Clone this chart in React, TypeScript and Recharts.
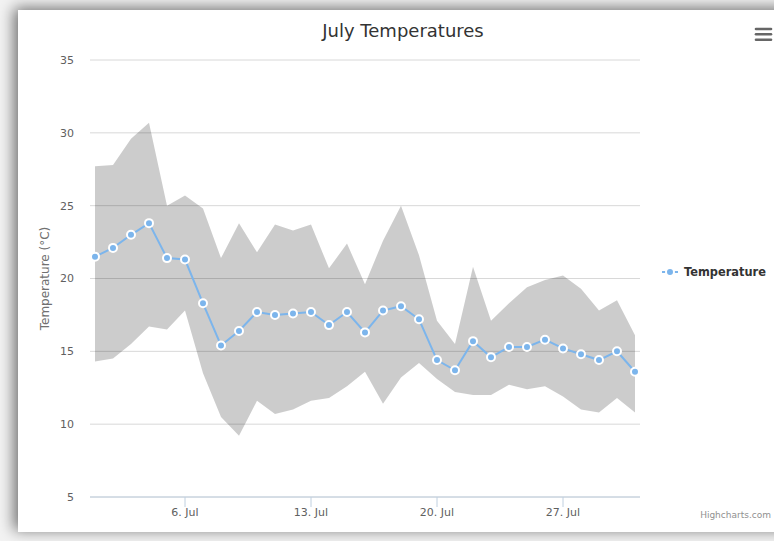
import React from 'react';
import {
  ComposedChart,
  Area,
  Line,
  XAxis,
  YAxis,
  CartesianGrid,
  Legend,
} from 'recharts';

const days = [
  1, 2, 3, 4, 5, 6, 7, 8, 9, 10, 11, 12, 13, 14, 15, 16,
  17, 18, 19, 20, 21, 22, 23, 24, 25, 26, 27, 28, 29, 30, 31,
];

const lows = [
  14.3, 14.5, 15.5, 16.7, 16.5, 17.8, 13.5, 10.5, 9.2, 11.6, 10.7, 11.0, 11.6, 11.8, 12.6, 13.6,
  11.4, 13.2, 14.2, 13.1, 12.2, 12.0, 12.0, 12.7, 12.4, 12.6, 11.9, 11.0, 10.8, 11.8, 10.8,
];

const highs = [
  27.7, 27.8, 29.6, 30.7, 25.0, 25.7, 24.8, 21.4, 23.8, 21.8, 23.7, 23.3, 23.7, 20.7, 22.4, 19.6,
  22.6, 25.0, 21.6, 17.1, 15.5, 20.8, 17.1, 18.3, 19.4, 19.9, 20.2, 19.3, 17.8, 18.5, 16.1,
];

const averages = [
  21.5, 22.1, 23.0, 23.8, 21.4, 21.3, 18.3, 15.4, 16.4, 17.7, 17.5, 17.6, 17.7, 16.8, 17.7, 16.3,
  17.8, 18.1, 17.2, 14.4, 13.7, 15.7, 14.6, 15.3, 15.3, 15.8, 15.2, 14.8, 14.4, 15.0, 13.6,
];

const dayTicks = [6, 13, 20, 27];
const tempTicks = [5, 10, 15, 20, 25, 30, 35];

const data = days.map((day, i) => ({
  day,
  range: [lows[i], highs[i]],
  avg: averages[i],
}));

const FONT = "'DejaVu Sans', sans-serif";
const LINE_COLOR = '#7cb5ec';

function TempLegend({ payload }: any) {
  const items = (payload || []).filter((p: any) => p.dataKey === 'avg');
  return (
    <div>
      {items.map((item: any) => (
        <div
          key={item.value}
          style={{ display: 'flex', alignItems: 'center', height: 16, fontFamily: FONT }}
        >
          <svg width={16} height={12}>
            <line x1={0} y1={6} x2={16} y2={6} stroke={LINE_COLOR} strokeWidth={2} />
            <circle cx={8} cy={6} r={4} fill={LINE_COLOR} stroke="#fff" strokeWidth={2} />
          </svg>
          <span
            style={{
              marginLeft: 6,
              fontSize: 11.4,
              fontWeight: 'bold',
              color: '#333333',
              whiteSpace: 'nowrap',
            }}
          >
            {item.value}
          </span>
        </div>
      ))}
    </div>
  );
}

export default function App() {
  return (
    <div
      style={{
        position: 'absolute',
        left: 0,
        top: 0,
        width: 774,
        height: 541,
        background: '#f3f3f3',
        overflow: 'hidden',
        fontFamily: FONT,
      }}
    >
      <div
        style={{
          position: 'absolute',
          left: 18,
          top: 10,
          width: 790,
          height: 522,
          background: '#ffffff',
          boxShadow: '-4px -2px 14px rgba(0,0,0,0.55)',
        }}
      />
      <div style={{ position: 'absolute', left: 0, top: 0 }}>
        <ComposedChart
          width={774}
          height={541}
          data={data}
          margin={{ top: 60, right: 134, bottom: 14, left: 0 }}
        >
          <CartesianGrid vertical={false} stroke="#D8D8D8" />
          <XAxis
            type="number"
            dataKey="day"
            domain={[1 - 5 / 18, 31 + 5 / 18]}
            ticks={dayTicks}
            interval={0}
            tickFormatter={(d: number) => `${d}. Jul`}
            axisLine={{ stroke: '#C0D0E0' }}
            tickLine={{ stroke: '#C0D0E0' }}
            tickSize={10}
            tickMargin={1}
            height={30}
            tick={{ fill: '#606060', fontSize: 11, fontFamily: FONT }}
          />
          <YAxis
            type="number"
            domain={[5, 35]}
            ticks={tempTicks}
            interval={0}
            axisLine={false}
            tickLine={false}
            width={90}
            tickMargin={10}
            tick={{ fill: '#606060', fontSize: 11, fontFamily: FONT }}
            label={{
              value: 'Temperature (°C)',
              angle: -90,
              position: 'center',
              fill: '#707070',
              fontSize: 12,
              fontFamily: FONT,
            }}
          />
          <Legend
            layout="horizontal"
            align="center"
            verticalAlign="middle"
            content={<TempLegend />}
            wrapperStyle={{ left: 662, top: 264, width: 112, height: 16 }}
          />
          <Area
            dataKey="range"
            name="Range"
            legendType="none"
            type="linear"
            stroke="none"
            fill="#000000"
            fillOpacity={0.2}
            isAnimationActive={false}
            activeDot={false}
          />
          <Line
            dataKey="avg"
            name="Temperature"
            type="linear"
            stroke={LINE_COLOR}
            strokeWidth={2}
            dot={{ r: 4, fill: LINE_COLOR, stroke: '#ffffff', strokeWidth: 2 }}
            activeDot={false}
            isAnimationActive={false}
          />
        </ComposedChart>
      </div>
      <svg
        width={774}
        height={541}
        style={{ position: 'absolute', left: 0, top: 0, pointerEvents: 'none' }}
      >
        <text
          x={403}
          y={37}
          textAnchor="middle"
          fontSize={18}
          fill="#333333"
          fontFamily={FONT}
        >
          July Temperatures
        </text>
        <g stroke="#666666" strokeWidth={2.6} strokeLinecap="round">
          <line x1={756} y1={29} x2={771} y2={29} />
          <line x1={756} y1={34.3} x2={771} y2={34.3} />
          <line x1={756} y1={39.7} x2={771} y2={39.7} />
        </g>
        <text
          x={771}
          y={518}
          textAnchor="end"
          fontSize={9}
          fill="#909090"
          fontFamily={FONT}
        >
          Highcharts.com
        </text>
      </svg>
    </div>
  );
}
